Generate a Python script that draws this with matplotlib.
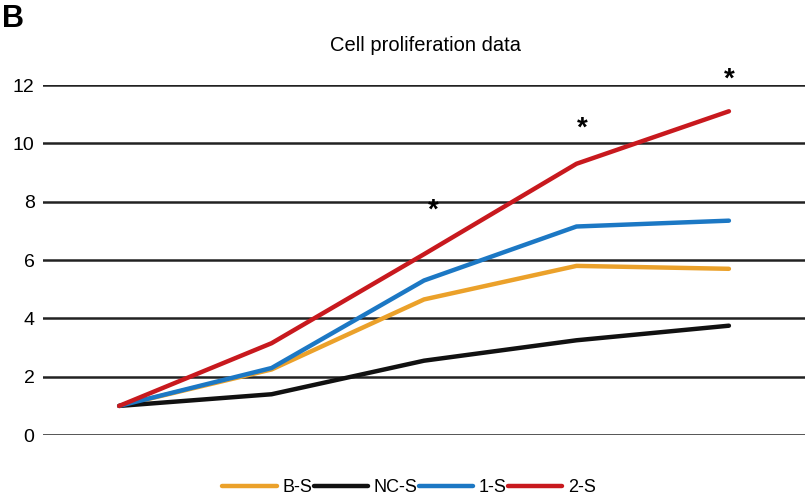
import matplotlib
matplotlib.use("Agg")
import matplotlib.pyplot as plt

plt.rcParams['font.family'] = ['Liberation Sans', 'DejaVu Sans']

days = ["D1", "D2", "D3", "D4", "D5"]
series_names = ["B-S", "NC-S", "1-S", "2-S"]
b_s = [1.0, 2.25, 4.65, 5.8, 5.7]
nc_s = [1.0, 1.4, 2.55, 3.25, 3.75]
s1 = [1.0, 2.3, 5.3, 7.15, 7.35]
s2 = [1.0, 3.15, 6.2, 9.3, 11.1]
colors = ["#EBA12A", "#111111", "#1C78C4", "#C8191E"]

# significance markers (category index, height)
star_x = [2.06, 3.04, 4.0]
star_y = [7.7, 10.5, 12.2]

fig = plt.figure(figsize=(8.1, 5.03), dpi=100)
ax = fig.add_axes([0.053, 0.135, 0.941, 0.696])

x = list(range(len(days)))
for vals, name, c in zip([b_s, nc_s, s1, s2], series_names, colors):
    ax.plot(x, vals, color=c, lw=3.2, label=name, solid_capstyle='round')

ax.set_xlim(-0.5, len(days) - 0.5)
ax.set_ylim(0, 12)
ax.set_yticks(range(0, 13, 2))
ax.set_xticks([])
ax.tick_params(axis='y', length=0, pad=6, labelsize=14)
for s in ax.spines.values():
    s.set_visible(False)
ax.grid(axis='y', color='#222222', lw=1.8)
ax.set_axisbelow(True)

for sx, sy in zip(star_x, star_y):
    ax.text(sx, sy, "*", ha='center', va='center', fontsize=20, fontweight='bold', clip_on=False)

fig.text(0.525, 0.91, "Cell proliferation data", ha='center', va='center', fontsize=14.5)
fig.text(0.002, 0.962, "B", ha='left', va='center', fontsize=22, fontweight='bold')

fig.legend(loc='center', bbox_to_anchor=(0.505, 0.03), ncol=4, frameon=False,
           fontsize=13, handlelength=3.0, handletextpad=0.3, columnspacing=0.1,
           borderaxespad=0)

fig.savefig("out.png", dpi=100)
